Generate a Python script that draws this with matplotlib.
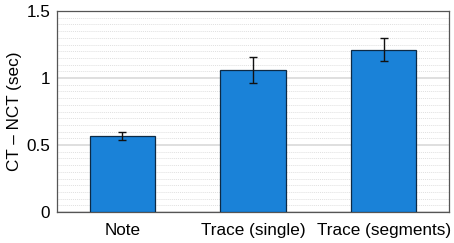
import numpy as np
import matplotlib
matplotlib.use('Agg')
import matplotlib.pyplot as plt
from matplotlib.ticker import MultipleLocator

categories = ['Note', 'Trace (single)', 'Trace (segments)']
means = [0.567, 1.06, 1.21]
errors = [0.03, 0.095, 0.085]

plt.rcParams['font.family'] = ['Liberation Sans', 'DejaVu Sans']

fig = plt.figure(figsize=(4.54, 2.43), dpi=100)
ax = fig.add_axes([57 / 454, 31 / 243, 392 / 454, 201 / 243])

x = np.arange(1, len(categories) + 1)
ax.bar(x, means, width=0.5, color='#1a82d8', edgecolor='#0d2a45', linewidth=0.9, zorder=3)
ax.errorbar(x, means, yerr=errors, fmt='none', ecolor='#111111', elinewidth=1.0,
            capsize=3, capthick=1.0, zorder=4)

ax.set_xlim(0.5, 3.5)
ax.set_ylim(0, 1.5)
ax.set_xticks(x)
ax.set_xticklabels(categories)
ax.set_yticks([0, 0.5, 1, 1.5])
ax.set_yticklabels(['0', '0.5', '1', '1.5'])
ax.yaxis.set_minor_locator(MultipleLocator(0.05))
ax.grid(axis='y', which='major', color='#dcdcdc', linewidth=1.3, zorder=0)
ax.grid(axis='y', which='minor', color='#e0e0e0', linewidth=0.7, linestyle=(0, (1, 1)), zorder=0)
ax.tick_params(axis='both', which='both', length=0, labelsize=12.3)
ax.tick_params(axis='x', pad=8)
ax.tick_params(axis='y', pad=5)
ax.set_ylabel('CT \u2013 NCT (sec)', fontsize=12.3)
ax.yaxis.set_label_coords(-0.09, 0.5)
for s in ax.spines.values():
    s.set_color('#555555')
    s.set_linewidth(0.9)

fig.savefig('out.png', dpi=100)
